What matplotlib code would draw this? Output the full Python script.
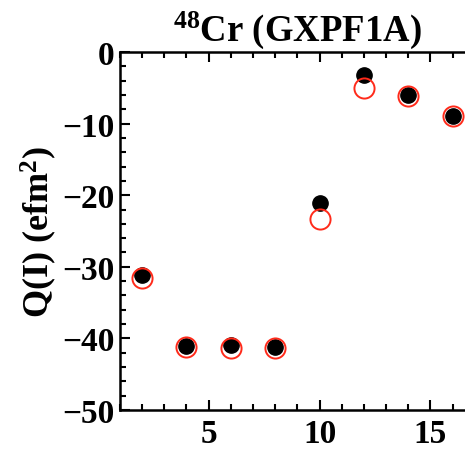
import matplotlib
matplotlib.use("Agg")
import matplotlib.pyplot as plt
from matplotlib.ticker import MultipleLocator

plt.rcParams['font.family'] = ['Liberation Serif', 'DejaVu Serif']
plt.rcParams['font.weight'] = 'bold'
plt.rcParams['mathtext.fontset'] = 'custom'
plt.rcParams['mathtext.rm'] = 'Liberation Serif:bold'
plt.rcParams['mathtext.it'] = 'Liberation Serif:bold'
plt.rcParams['mathtext.bf'] = 'Liberation Serif:bold'

# Data
spin_I = [2, 4, 6, 8, 10, 12, 14, 16]
q_black = [-31.1, -41.1, -40.9, -41.2, -21.1, -3.2, -6.0, -8.9]
q_red = [-31.6, -41.2, -41.3, -41.3, -23.3, -5.0, -6.2, -9.0]
title = r"$^{48}$Cr (GXPF1A)"
ylabel = r"Q(I) (efm$^{2}$)"

fig = plt.figure(figsize=(4.65, 4.52), dpi=100)
ax = fig.add_axes([0.258, 0.0907, 0.763, 0.792])

ax.plot(spin_I, q_red, linestyle='none', marker='o', markersize=14.5,
        markerfacecolor='none', markeredgecolor='#ff2a1a', markeredgewidth=1.4, zorder=3)
ax.plot(spin_I, q_black, linestyle='none', marker='o', markersize=11,
        markerfacecolor='black', markeredgecolor='black', zorder=2)

ax.set_xlim(1, 17)
ax.set_ylim(-50, 0)
ax.xaxis.set_major_locator(MultipleLocator(5))
ax.xaxis.set_minor_locator(MultipleLocator(1))
ax.yaxis.set_major_locator(MultipleLocator(10))
ax.yaxis.set_minor_locator(MultipleLocator(2))

for s in ax.spines.values():
    s.set_linewidth(1.8)
ax.tick_params(which='both', direction='in', top=True, right=False,
               labelsize=24, width=1.5)
ax.tick_params(axis='x', which='both', pad=6)
ax.tick_params(axis='y', which='both', pad=4)
ax.tick_params(which='major', length=7)
ax.tick_params(which='minor', length=4)

ax.set_title(title, fontsize=26.5, fontweight='bold', pad=9, x=0.5)
ax.set_ylabel(ylabel, fontsize=26, fontweight='bold', labelpad=2)

fig.savefig("out.png", dpi=100)
